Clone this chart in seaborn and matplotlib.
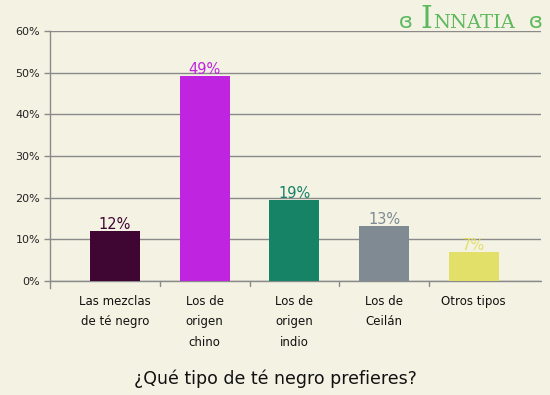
import matplotlib
matplotlib.use("Agg")
import matplotlib.pyplot as plt
import seaborn as sns
import pandas as pd

# Data
categories = ["Las mezclas\nde té negro", "Los de\norigen\nchino", "Los de\norigen\nindio",
              "Los de\nCeilán", "Otros tipos"]
values = [11.9, 49.2, 19.5, 13.1, 6.9]
value_labels = ["12%", "49%", "19%", "13%", "7%"]
colors = ["#400633", "#bf24e0", "#168266", "#7f8a93", "#e3e06a"]
yticks = [0, 10, 20, 30, 40, 50, 60]
title = "¿Qué tipo de té negro prefieres?"

bg = "#f3f2e3"
grid_c = "#8a8a8a"

sns.set_theme(style="white")
plt.rcParams["font.family"] = ["DejaVu Sans"]

fig = plt.figure(figsize=(5.5, 3.95), dpi=100, facecolor=bg)
ax = fig.add_axes([0.0909, 0.2886, 0.8927, 0.6329])
ax.set_facecolor(bg)

df = pd.DataFrame({"cat": categories, "val": values})
sns.barplot(data=df, x="cat", y="val", hue="cat", palette=colors,
            legend=False, width=0.56, saturation=1, linewidth=0, ax=ax, zorder=3)

# value labels on top of bars
for i, (v, lab) in enumerate(zip(values, value_labels)):
    ax.text(i, v - 0.2, lab, ha="center", va="bottom", fontsize=10.5,
            color=colors[i], zorder=4)

ax.set_xlim(-0.725, 4.75)
ax.set_ylim(0, 60)
ax.set_yticks(yticks)
ax.set_yticklabels([f"{t}%" for t in yticks], fontsize=8, color="#222222")
ax.yaxis.grid(True, color=grid_c, linewidth=1, zorder=0)
ax.axhline(0, color=grid_c, linewidth=1, zorder=2, clip_on=False)
ax.tick_params(axis="y", length=4, width=1, color=grid_c, pad=3, left=True)

# category labels, separators below the axis
ax.set_xticks(range(len(categories)))
ax.set_xticklabels(categories, fontsize=8.5, color="#111111", linespacing=1.75, va="top")
ax.tick_params(axis="x", length=0, pad=10)
for b in [0.5, 1.5, 2.5, 3.5]:
    ax.plot([b, b], [0, -1.2], color=grid_c, lw=1, clip_on=False)
ax.set_xlabel("")
ax.set_ylabel("")

for s in ["top", "right", "bottom"]:
    ax.spines[s].set_visible(False)
ax.spines["left"].set_color(grid_c)
ax.spines["left"].set_linewidth(1)
ax.spines["left"].set_bounds(-1.7, 60)

fig.text(0.5, 0.04, title, ha="center", va="center", fontsize=12.5, color="#111111")

# logo
logo_green = "#5cb85c"
fig.text(0.738, 0.945, "ɞ", ha="center", va="center", fontsize=15, color=logo_green)
fig.text(0.785, 0.928, "I", ha="right", va="baseline", fontsize=22,
         color=logo_green, family="DejaVu Serif")
fig.text(0.787, 0.928, "NNATIA", ha="left", va="baseline", fontsize=14,
         color=logo_green, family="DejaVu Serif")
fig.text(0.975, 0.945, "ɞ", ha="center", va="center", fontsize=15, color=logo_green)

fig.savefig("out.png", dpi=100, facecolor=bg)
